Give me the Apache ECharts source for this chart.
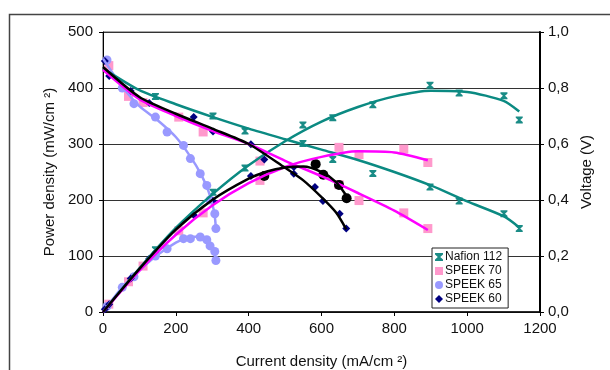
<!DOCTYPE html>
<html>
<head>
<meta charset="utf-8">
<script src="https://cdn.jsdelivr.net/npm/echarts@6/dist/echarts.min.js"></script>
<style>
  html, body { margin: 0; padding: 0; background: #fff; }
  #chart { width: 610px; height: 370px; }
</style>
</head>
<body>
<div id="chart"></div>
<script>
// measured points [current mA/cm2, value]
const nafionV = [[144,0.77],[302,0.70],[390,0.646],[549,0.602],[631,0.545],[741,0.495],[898,0.446],[978,0.396],[1101,0.351],[1143,0.298]];
const nafionP = [[144,111],[302,214],[390,257],[549,334],[631,347],[741,370],[898,405],[978,391],[1101,386],[1143,343]];
const speek70V = [[16,0.88],[70,0.77],[110,0.748],[208,0.696],[275,0.643],[431,0.539],[648,0.455],[703,0.398],[826,0.354],[892,0.298]];
const speek70P = [[16,14],[70,54],[110,82],[208,145],[275,177],[431,235],[648,294],[703,281],[826,291],[892,267]];
const speek65V = [[11,0.90],[53,0.80],[85,0.744],[144,0.696],[176,0.643],[221,0.595],[240,0.548],[267,0.494],[285,0.452],[294,0.40],[307,0.351],[310,0.298]];
const speek65P = [[11,10],[53,44],[85,63],[144,100],[176,113],[221,131],[240,131],[267,134],[285,129],[294,118],[307,108],[310,92]];
const speek60V = [[5,0.896],[17,0.843],[76,0.789],[127,0.746],[249,0.696],[302,0.645],[406,0.599],[443,0.545],[524,0.494],[582,0.446],[604,0.396],[650,0.351],[668,0.298]];
const speek60P = [[5,5],[17,14],[76,60],[127,95],[249,173],[302,198],[406,243],[524,259]];
const speek60Dots = [[443,243],[584,264],[605,245],[648,227],[669,203]];

// fitted trend lines
const nafionVFit = [[0,0.87],[100,0.792],[200,0.742],[300,0.697],[400,0.655],[500,0.617],[600,0.58],[700,0.543],[800,0.50],[900,0.452],[1000,0.395],[1100,0.342],[1143,0.302]];
const nafionPFit = [[0,0],[100,78],[200,150],[300,210],[400,262],[500,305],[600,340],[700,366],[800,385],[900,395],[1000,393],[1100,377],[1143,358]];
const speek70VFit = [[0,0.865],[100,0.76],[200,0.70],[300,0.647],[400,0.60],[500,0.54],[600,0.485],[700,0.425],[800,0.362],[892,0.293]];
const speek70PFit = [[0,0],[100,74],[200,138],[300,190],[400,230],[500,259],[600,277],[700,287],[800,285],[892,271]];
const speek65VFit = [[0,0.905],[50,0.81],[100,0.735],[150,0.685],[200,0.625],[240,0.555],[270,0.49],[290,0.43],[305,0.36],[310,0.30]];
const speek65PFit = [[0,0],[50,42],[100,74],[150,102],[200,124],[230,132],[260,135],[280,131],[295,120],[305,106],[310,93]];
const speek60VFit = [[0,0.875],[100,0.768],[200,0.708],[300,0.655],[400,0.60],[500,0.515],[550,0.47],[600,0.41],[640,0.355],[668,0.295]];
const speek60PFit = [[0,0],[100,77],[200,147],[300,200],[400,238],[450,251],[500,258],[550,260],[600,250],[640,232],[668,208]];

const names = ["Nafion 112", "SPEEK 70", "SPEEK 65", "SPEEK 60"];

const FONT = '"Liberation Sans Narrow", "Liberation Sans", Arial, sans-serif';
const hourglass = "path://M0,0 L10,0 L10,2 L6.5,5 L10,8 L10,10 L0,10 L0,8 L3.5,5 L0,2 Z";

const fit = (data, color, yIdx) => ({
  type: "line", smooth: 0.25, symbol: "none", yAxisIndex: yIdx, data: data, z: 3,
  lineStyle: { color: color, width: 2.5 }, silent: true
});
const dots = (name, data, symbol, size, color, yIdx) => ({
  type: "scatter", name: name, data: data, symbol: symbol, symbolSize: size,
  yAxisIndex: yIdx, itemStyle: { color: color, opacity: 1 }, z: 2
});

const chart = echarts.init(document.getElementById("chart"));
chart.setOption({
  animation: false,
  textStyle: { fontFamily: FONT },
  graphic: [{
    type: "rect", shape: { x: 9.5, y: 14.5, width: 700, height: 400 },
    style: { fill: "none", stroke: "#444", lineWidth: 1.5 }, z: -1
  }],
  grid: {
    left: 103, right: 70, top: 32, bottom: 58, outerBoundsMode: "none",
    show: true, borderColor: "#555", borderWidth: 1
  },
  legend: {
    orient: "vertical", left: 432, top: 248, itemGap: 2, itemWidth: 8, itemHeight: 8,
    padding: [3, 6, 3, 3], backgroundColor: "#fff", borderColor: "#222", borderWidth: 1,
    textStyle: { fontFamily: FONT, fontSize: 12, color: "#111", padding: [0, 0, 0, -3] },
    data: [
      { name: names[0], icon: hourglass },
      { name: names[1], icon: "rect" },
      { name: names[2], icon: "circle" },
      { name: names[3], icon: "diamond" }
    ]
  },
  xAxis: {
    type: "value", min: 0, max: 1200, interval: 200,
    name: "Current density (mA/cm ²)", nameLocation: "middle", nameGap: 42,
    nameTextStyle: { fontFamily: FONT, fontSize: 15, color: "#111" },
    axisLine: { lineStyle: { color: "#000", width: 1.5 } },
    axisTick: { show: true, length: 4, lineStyle: { color: "#000" } },
    axisLabel: { fontFamily: FONT, fontSize: 15, color: "#111", margin: 9, formatter: (v) => String(v) },
    splitLine: { show: false }
  },
  yAxis: [{
    type: "value", min: 0, max: 500, interval: 100, position: "left",
    name: "Power density (mW/cm ²)", nameLocation: "middle", nameGap: 33, nameRotate: 90,
    nameTextStyle: { fontFamily: FONT, fontSize: 15, color: "#111" },
    axisLine: { show: true, lineStyle: { color: "#000", width: 1 } },
    axisTick: { show: true, length: 4, lineStyle: { color: "#000" } },
    axisLabel: { fontFamily: FONT, fontSize: 15, color: "#111", margin: 10 },
    splitLine: { show: true, lineStyle: { color: "#333", width: 1 } }
  }, {
    type: "value", min: 0, max: 1, interval: 0.2, position: "right",
    name: "Voltage (V)", nameLocation: "middle", nameGap: 26, nameRotate: 90,
    nameTextStyle: { fontFamily: FONT, fontSize: 15, color: "#111" },
    axisLine: { show: true, lineStyle: { color: "#000", width: 2 } },
    axisTick: { show: true, length: 4, lineStyle: { color: "#000" } },
    axisLabel: { fontFamily: FONT, fontSize: 15, color: "#111", margin: 8,
      formatter: (v) => v.toFixed(1).replace(".", ",") },
    splitLine: { show: false }
  }],
  series: [
    dots(names[0], nafionV, hourglass, 7, "#1a8c86", 1),
    dots(names[0], nafionP, hourglass, 7, "#1a8c86", 0),
    dots(names[1], speek70V, "rect", 9, "#ff99cc", 1),
    dots(names[1], speek70P, "rect", 9, "#ff99cc", 0),
    dots(names[2], speek65V, "circle", 9, "#9999ff", 1),
    dots(names[2], speek65P, "circle", 9, "#9999ff", 0),
    dots(names[3], speek60V, "diamond", 8, "#000080", 1),
    dots(names[3], speek60P, "diamond", 8, "#000080", 0),
    dots("SPEEK 60 dots", speek60Dots, "circle", 10, "#000", 0),
    fit(speek65VFit, "#9999ff", 1),
    fit(speek65PFit, "#9999ff", 0),
    fit(nafionVFit, "#0b8a82", 1),
    fit(nafionPFit, "#0b8a82", 0),
    fit(speek70VFit, "#ff00ff", 1),
    fit(speek70PFit, "#ff00ff", 0),
    fit(speek60VFit, "#000", 1),
    fit(speek60PFit, "#000", 0)
  ]
});
</script>
</body>
</html>
